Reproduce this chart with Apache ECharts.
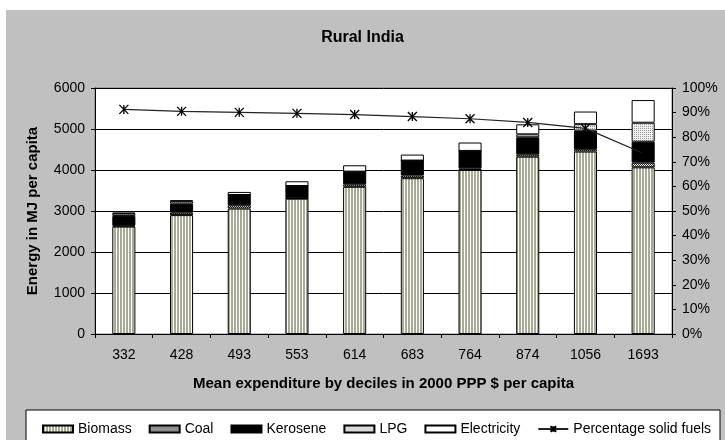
<!DOCTYPE html>
<html><head><meta charset="utf-8">
<script src="https://cdn.jsdelivr.net/npm/echarts@6/dist/echarts.min.js"></script>
<style>html,body{margin:0;padding:0;background:#fff}#c{width:725px;height:440px}</style>
</head><body><div id="c"></div>
<script>
const categories = ['332','428','493','553','614','683','764','874','1056','1693'];
const biomass     = [2620, 2900, 3060, 3300, 3590, 3800, 4000, 4325, 4450, 4065];
const coal        = [20, 60, 80, 10, 60, 65, 40, 57, 57, 115];
const kerosene    = [240, 220, 250, 300, 310, 365, 425, 415, 455, 510];
const lpg         = [60, 60, 0, 0, 0, 0, 0, 73, 155, 463];
const electricity = [15, 20, 75, 115, 155, 146, 205, 244, 309, 553];
const pctSolid    = [0.913, 0.905, 0.901, 0.897, 0.892, 0.884, 0.875, 0.860, 0.836, 0.735];
const leftTicks = {min: 0, max: 6000, interval: 1000};
const rightTicks = {min: 0, max: 1, interval: 0.1};

function pat(w, h, draw) {
  const c = document.createElement('canvas'); c.width = w; c.height = h;
  draw(c.getContext('2d'));
  return {image: c, repeat: 'repeat'};
}
const biomassFill = pat(3, 1, g => { g.fillStyle = '#a9aa95'; g.fillRect(0,0,3,1); g.fillStyle = '#fff'; g.fillRect(2,0,1,1); });
const coalFill = pat(2, 2, g => { g.fillStyle = '#fff'; g.fillRect(0,0,2,2); g.fillStyle = '#222'; g.fillRect(0,0,1,1); g.fillRect(1,1,1,1); });
const lpgFill = pat(2, 2, g => { g.fillStyle = '#f0f0f0'; g.fillRect(0,0,2,2); g.fillStyle = '#999'; g.fillRect(0,0,1,1); });

const FONT = 'Liberation Sans';
function barSeries(name, data, fill) {
  return {
    name, type: 'bar', stack: 'e', data, barWidth: '40%',
    itemStyle: {color: fill, borderColor: '#000', borderWidth: 1},
    emphasis: {disabled: true}
  };
}
const chart = echarts.init(document.getElementById('c'), null, {renderer: 'canvas'});
chart.setOption({
  animation: false,
  backgroundColor: '#c0c0c0',
  textStyle: {fontFamily: FONT},
  title: {
    text: 'Rural India', left: 'center', top: 25,
    textStyle: {fontFamily: FONT, fontSize: 16, fontWeight: 'bold', color: '#000'}
  },
  graphic: [
    {type: 'rect', shape: {x: 0, y: 0, width: 725, height: 10}, style: {fill: '#fff'}, silent: true},
    {type: 'rect', shape: {x: 0, y: 0, width: 6, height: 440}, style: {fill: '#fff'}, silent: true},
    {type: 'rect', shape: {x: 26, y: 410, width: 694, height: 40}, style: {fill: '#fff', stroke: '#000', lineWidth: 1}, silent: true}
  ],
  grid: {left: 95, right: 53, top: 88, bottom: 106, show: true, backgroundColor: '#fff', borderColor: '#808080', borderWidth: 1},
  legend: {
    left: 37, top: 417, itemGap: 17, itemWidth: 30, itemHeight: 7,
    textStyle: {fontFamily: FONT, fontSize: 14, color: '#000'},
    data: [
      {name: 'Biomass', icon: 'rect'}, {name: 'Coal', icon: 'rect'}, {name: 'Kerosene', icon: 'rect'},
      {name: 'LPG', icon: 'rect'}, {name: 'Electricity', icon: 'rect'}, {name: 'Percentage solid fuels'}
    ]
  },
  xAxis: {
    type: 'category', data: categories,
    axisLine: {lineStyle: {color: '#000'}},
    axisTick: {show: true, alignWithLabel: false, length: 4, lineStyle: {color: '#000'}},
    axisLabel: {fontFamily: FONT, fontSize: 14, color: '#000', margin: 14},
    name: 'Mean expenditure by deciles in 2000 PPP $ per capita',
    nameLocation: 'middle', nameGap: 42,
    nameTextStyle: {fontFamily: FONT, fontSize: 15, fontWeight: 'bold', color: '#000'}
  },
  yAxis: [{
    type: 'value', min: leftTicks.min, max: leftTicks.max, interval: leftTicks.interval,
    axisLine: {show: true, lineStyle: {color: '#000'}},
    axisTick: {show: true, length: 4, lineStyle: {color: '#000'}},
    axisLabel: {fontFamily: FONT, fontSize: 14, color: '#000', margin: 10, formatter: v => String(v)},
    splitLine: {lineStyle: {color: '#000', width: 1}},
    name: 'Energy in MJ per capita', nameLocation: 'middle', nameGap: 55,
    nameTextStyle: {fontFamily: FONT, fontSize: 15, fontWeight: 'bold', color: '#000'}
  }, {
    type: 'value', min: rightTicks.min, max: rightTicks.max, interval: rightTicks.interval, position: 'right',
    axisLine: {show: true, lineStyle: {color: '#000'}},
    axisTick: {show: true, length: 4, lineStyle: {color: '#000'}},
    axisLabel: {fontFamily: FONT, fontSize: 14, color: '#000', margin: 10, formatter: v => Math.round(v * 100) + '%'},
    splitLine: {show: false}
  }],
  series: [
    barSeries('Biomass', biomass, biomassFill),
    barSeries('Coal', coal, coalFill),
    barSeries('Kerosene', kerosene, '#000'),
    barSeries('LPG', lpg, lpgFill),
    barSeries('Electricity', electricity, '#fff'),
    {
      name: 'Percentage solid fuels', type: 'line', yAxisIndex: 1, data: pctSolid, z: 5,
      symbol: 'path://M0,0L8,8M8,0L0,8M4,0L4,8', symbolSize: 9,
      lineStyle: {color: '#222', width: 1.2},
      itemStyle: {color: '#000', borderColor: '#000', borderWidth: 1.3},
      emphasis: {disabled: true}
    }
  ]
});
</script></body></html>
